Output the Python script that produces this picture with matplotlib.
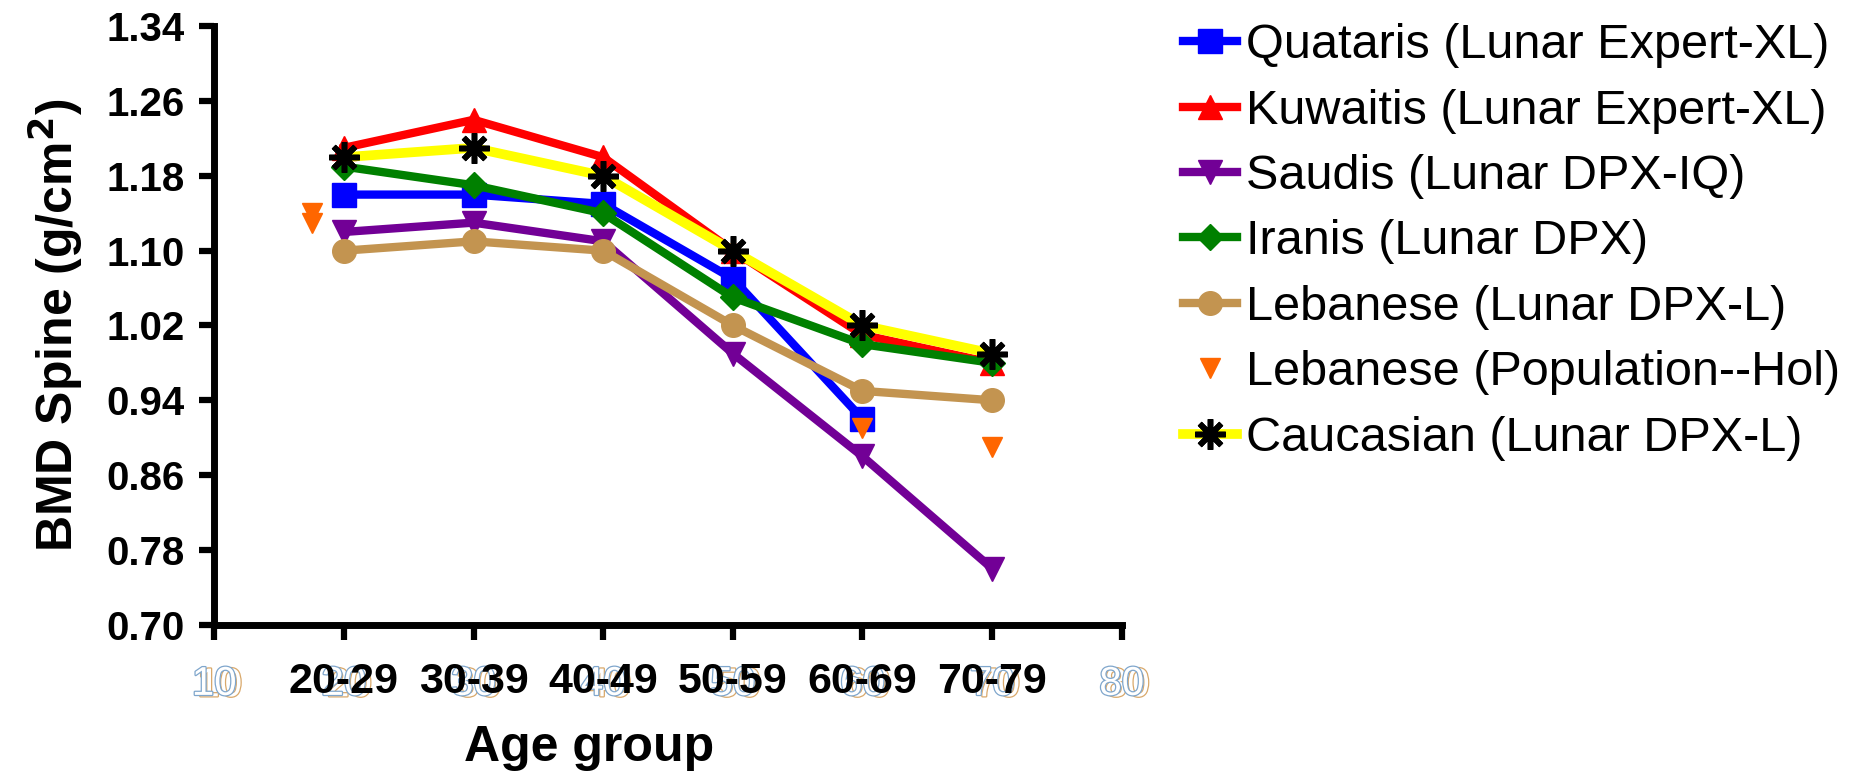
import numpy as np
import matplotlib
matplotlib.use("Agg")
import matplotlib.pyplot as plt
import matplotlib.patheffects as pe

# data
ages = [20, 30, 40, 50, 60, 70]
age_labels = ["20-29", "30-39", "40-49", "50-59", "60-69", "70-79"]

quataris = [1.16, 1.16, 1.15, 1.07, 0.92, np.nan]
kuwaitis = [1.21, 1.24, 1.20, 1.10, 1.01, 0.98]
saudis = [1.12, 1.13, 1.11, 0.99, 0.88, 0.76]
iranis = [1.19, 1.17, 1.14, 1.05, 1.00, 0.98]
lebanese = [1.10, 1.11, 1.10, 1.02, 0.95, 0.94]
caucasian = [1.20, 1.21, 1.18, 1.10, 1.02, 0.99]

# Lebanese population (Hol) points sit off the grid
leb_pop_x = [17.5, 17.5, 60, 70]
leb_pop_y = [1.14, 1.13, 0.91, 0.89]

x_ticks = [10, 20, 30, 40, 50, 60, 70, 80]
y_ticks = [0.70, 0.78, 0.86, 0.94, 1.02, 1.10, 1.18, 1.26, 1.34]

plt.rcParams['font.family'] = ['Liberation Sans', 'DejaVu Sans']

fig = plt.figure(figsize=(18.52, 7.74), dpi=100)
ax = fig.add_axes([0.1157, 0.193, 0.490, 0.773])

lw = 6
ms = 17
ax.plot(ages, quataris, color='#0000ff', lw=lw, marker='s', ms=ms, label='Quataris (Lunar Expert-XL)')
ax.plot(ages, kuwaitis, color='#ff0000', lw=lw, marker='^', ms=ms, label='Kuwaitis (Lunar Expert-XL)')
ax.plot(ages, saudis, color='#720096', lw=lw, marker='v', ms=ms, label='Saudis (Lunar DPX-IQ)')
ax.plot(ages, iranis, color='#008000', lw=lw, marker='D', ms=13, label='Iranis (Lunar DPX)')
ax.plot(ages, lebanese, color='#c39450', lw=lw, marker='o', ms=ms, label='Lebanese (Lunar DPX-L)')
ax.plot(leb_pop_x, leb_pop_y, color='#ff6600', lw=0, marker='v', ms=14, label='Lebanese (Population--Hol)')
ax.plot(ages, caucasian, color='#ffff00', lw=7, marker=(8, 2, 0), ms=22,
        mec='black', mew=4, label='Caucasian (Lunar DPX-L)')

ax.set_xlim(10, 80)
ax.set_ylim(0.70, 1.34)
ax.set_yticks(y_ticks)
ax.set_yticklabels([f"{v:.2f}" for v in y_ticks], fontsize=29, fontweight='bold')

# outlined numeric tick labels, as exported from the original software
ax.set_xticks(x_ticks)
ax.set_xticklabels([])
for xv in x_ticks:
    ax.annotate(str(xv), xy=(xv, 0), xycoords=('data', 'axes fraction'),
                xytext=(4, -30), textcoords='offset points', ha='center', va='top',
                fontsize=29, color='white',
                path_effects=[pe.withStroke(linewidth=1.8, foreground='#d9a86a')])
    ax.annotate(str(xv), xy=(xv, 0), xycoords=('data', 'axes fraction'),
                xytext=(0, -29), textcoords='offset points', ha='center', va='top',
                fontsize=29, color='white',
                path_effects=[pe.withStroke(linewidth=1.8, foreground='#7fa6cc')])

for xv, lab in zip(ages, age_labels):
    ax.annotate(lab, xy=(xv, 0), xycoords=('data', 'axes fraction'),
                xytext=(0, -27), textcoords='offset points', ha='center', va='top',
                fontsize=31, fontweight='bold', color='black')

for side in ['top', 'right']:
    ax.spines[side].set_visible(False)
for side in ['left', 'bottom']:
    ax.spines[side].set_linewidth(5)
ax.tick_params(axis='both', direction='out', width=4.5, length=11, color='black')
ax.tick_params(axis='y', pad=10)

ax.set_xlabel('Age group', fontsize=36, fontweight='bold', labelpad=58)
ax.xaxis.label.set_x(0.413)
ax.set_ylabel('BMD Spine (g/cm$^\\mathbf{2}$)', fontsize=36, fontweight='bold', labelpad=16)

fig.legend(loc='upper left', bbox_to_anchor=(0.639, 0.970), frameon=False,
           fontsize=35, handlelength=1.1, handletextpad=0.18, labelspacing=0.42,
           borderpad=0, borderaxespad=0, markerscale=1.0)

fig.savefig('out.png', dpi=100)
